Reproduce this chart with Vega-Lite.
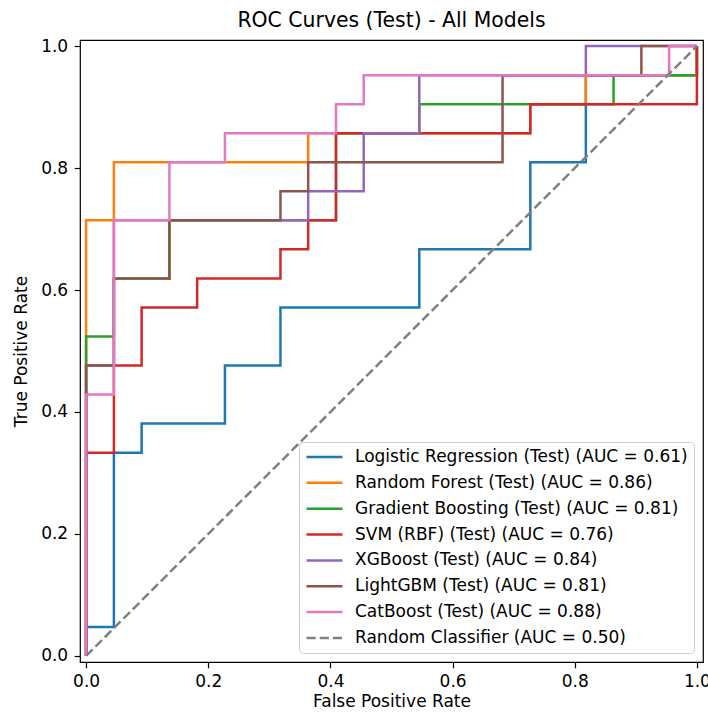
{
  "$schema": "https://vega.github.io/schema/vega-lite/v6.json",
  "width": 623,
  "height": 622,
  "autosize": "none",
  "padding": {"left": 80, "top": 40, "right": 5, "bottom": 54},
  "background": "white",
  "title": {"text": "ROC Curves (Test) - All Models", "font": "DejaVu Sans", "fontSize": 20.4, "fontWeight": "normal", "color": "#000", "anchor": "middle", "baseline": "alphabetic", "offset": 12, "dy": 22},
  "data": {"values": [
    {"model": "Logistic Regression (Test) (AUC = 0.61)", "fpr": 0, "tpr": 0, "step": 0},
    {"model": "Logistic Regression (Test) (AUC = 0.61)", "fpr": 0, "tpr": 0.0476, "step": 1},
    {"model": "Logistic Regression (Test) (AUC = 0.61)", "fpr": 0.0455, "tpr": 0.0476, "step": 2},
    {"model": "Logistic Regression (Test) (AUC = 0.61)", "fpr": 0.0455, "tpr": 0.3333, "step": 3},
    {"model": "Logistic Regression (Test) (AUC = 0.61)", "fpr": 0.0909, "tpr": 0.3333, "step": 4},
    {"model": "Logistic Regression (Test) (AUC = 0.61)", "fpr": 0.0909, "tpr": 0.381, "step": 5},
    {"model": "Logistic Regression (Test) (AUC = 0.61)", "fpr": 0.2273, "tpr": 0.381, "step": 6},
    {"model": "Logistic Regression (Test) (AUC = 0.61)", "fpr": 0.2273, "tpr": 0.4762, "step": 7},
    {"model": "Logistic Regression (Test) (AUC = 0.61)", "fpr": 0.3182, "tpr": 0.4762, "step": 8},
    {"model": "Logistic Regression (Test) (AUC = 0.61)", "fpr": 0.3182, "tpr": 0.5714, "step": 9},
    {"model": "Logistic Regression (Test) (AUC = 0.61)", "fpr": 0.5455, "tpr": 0.5714, "step": 10},
    {"model": "Logistic Regression (Test) (AUC = 0.61)", "fpr": 0.5455, "tpr": 0.6667, "step": 11},
    {"model": "Logistic Regression (Test) (AUC = 0.61)", "fpr": 0.7273, "tpr": 0.6667, "step": 12},
    {"model": "Logistic Regression (Test) (AUC = 0.61)", "fpr": 0.7273, "tpr": 0.8095, "step": 13},
    {"model": "Logistic Regression (Test) (AUC = 0.61)", "fpr": 0.8182, "tpr": 0.8095, "step": 14},
    {"model": "Logistic Regression (Test) (AUC = 0.61)", "fpr": 0.8182, "tpr": 0.9524, "step": 15},
    {"model": "Logistic Regression (Test) (AUC = 0.61)", "fpr": 1, "tpr": 0.9524, "step": 16},
    {"model": "Logistic Regression (Test) (AUC = 0.61)", "fpr": 1, "tpr": 1, "step": 17},

    {"model": "Random Forest (Test) (AUC = 0.86)", "fpr": 0, "tpr": 0, "step": 0},
    {"model": "Random Forest (Test) (AUC = 0.86)", "fpr": 0, "tpr": 0.7143, "step": 1},
    {"model": "Random Forest (Test) (AUC = 0.86)", "fpr": 0.0455, "tpr": 0.7143, "step": 2},
    {"model": "Random Forest (Test) (AUC = 0.86)", "fpr": 0.0455, "tpr": 0.8095, "step": 3},
    {"model": "Random Forest (Test) (AUC = 0.86)", "fpr": 0.3636, "tpr": 0.8095, "step": 4},
    {"model": "Random Forest (Test) (AUC = 0.86)", "fpr": 0.3636, "tpr": 0.8571, "step": 5},
    {"model": "Random Forest (Test) (AUC = 0.86)", "fpr": 0.7273, "tpr": 0.8571, "step": 6},
    {"model": "Random Forest (Test) (AUC = 0.86)", "fpr": 0.7273, "tpr": 0.9048, "step": 7},
    {"model": "Random Forest (Test) (AUC = 0.86)", "fpr": 0.8182, "tpr": 0.9048, "step": 8},
    {"model": "Random Forest (Test) (AUC = 0.86)", "fpr": 0.8182, "tpr": 0.9524, "step": 9},
    {"model": "Random Forest (Test) (AUC = 0.86)", "fpr": 1, "tpr": 0.9524, "step": 10},
    {"model": "Random Forest (Test) (AUC = 0.86)", "fpr": 1, "tpr": 1, "step": 11},

    {"model": "Gradient Boosting (Test) (AUC = 0.81)", "fpr": 0, "tpr": 0, "step": 0},
    {"model": "Gradient Boosting (Test) (AUC = 0.81)", "fpr": 0, "tpr": 0.5238, "step": 1},
    {"model": "Gradient Boosting (Test) (AUC = 0.81)", "fpr": 0.0455, "tpr": 0.5238, "step": 2},
    {"model": "Gradient Boosting (Test) (AUC = 0.81)", "fpr": 0.0455, "tpr": 0.619, "step": 3},
    {"model": "Gradient Boosting (Test) (AUC = 0.81)", "fpr": 0.1364, "tpr": 0.619, "step": 4},
    {"model": "Gradient Boosting (Test) (AUC = 0.81)", "fpr": 0.1364, "tpr": 0.7143, "step": 5},
    {"model": "Gradient Boosting (Test) (AUC = 0.81)", "fpr": 0.4091, "tpr": 0.7143, "step": 6},
    {"model": "Gradient Boosting (Test) (AUC = 0.81)", "fpr": 0.4091, "tpr": 0.8571, "step": 7},
    {"model": "Gradient Boosting (Test) (AUC = 0.81)", "fpr": 0.5455, "tpr": 0.8571, "step": 8},
    {"model": "Gradient Boosting (Test) (AUC = 0.81)", "fpr": 0.5455, "tpr": 0.9048, "step": 9},
    {"model": "Gradient Boosting (Test) (AUC = 0.81)", "fpr": 0.8636, "tpr": 0.9048, "step": 10},
    {"model": "Gradient Boosting (Test) (AUC = 0.81)", "fpr": 0.8636, "tpr": 0.9524, "step": 11},
    {"model": "Gradient Boosting (Test) (AUC = 0.81)", "fpr": 1, "tpr": 0.9524, "step": 12},
    {"model": "Gradient Boosting (Test) (AUC = 0.81)", "fpr": 1, "tpr": 1, "step": 13},

    {"model": "SVM (RBF) (Test) (AUC = 0.76)", "fpr": 0, "tpr": 0, "step": 0},
    {"model": "SVM (RBF) (Test) (AUC = 0.76)", "fpr": 0, "tpr": 0.3333, "step": 1},
    {"model": "SVM (RBF) (Test) (AUC = 0.76)", "fpr": 0.0455, "tpr": 0.3333, "step": 2},
    {"model": "SVM (RBF) (Test) (AUC = 0.76)", "fpr": 0.0455, "tpr": 0.4762, "step": 3},
    {"model": "SVM (RBF) (Test) (AUC = 0.76)", "fpr": 0.0909, "tpr": 0.4762, "step": 4},
    {"model": "SVM (RBF) (Test) (AUC = 0.76)", "fpr": 0.0909, "tpr": 0.5714, "step": 5},
    {"model": "SVM (RBF) (Test) (AUC = 0.76)", "fpr": 0.1818, "tpr": 0.5714, "step": 6},
    {"model": "SVM (RBF) (Test) (AUC = 0.76)", "fpr": 0.1818, "tpr": 0.619, "step": 7},
    {"model": "SVM (RBF) (Test) (AUC = 0.76)", "fpr": 0.3182, "tpr": 0.619, "step": 8},
    {"model": "SVM (RBF) (Test) (AUC = 0.76)", "fpr": 0.3182, "tpr": 0.6667, "step": 9},
    {"model": "SVM (RBF) (Test) (AUC = 0.76)", "fpr": 0.3636, "tpr": 0.6667, "step": 10},
    {"model": "SVM (RBF) (Test) (AUC = 0.76)", "fpr": 0.3636, "tpr": 0.7143, "step": 11},
    {"model": "SVM (RBF) (Test) (AUC = 0.76)", "fpr": 0.4091, "tpr": 0.7143, "step": 12},
    {"model": "SVM (RBF) (Test) (AUC = 0.76)", "fpr": 0.4091, "tpr": 0.8571, "step": 13},
    {"model": "SVM (RBF) (Test) (AUC = 0.76)", "fpr": 0.7273, "tpr": 0.8571, "step": 14},
    {"model": "SVM (RBF) (Test) (AUC = 0.76)", "fpr": 0.7273, "tpr": 0.9048, "step": 15},
    {"model": "SVM (RBF) (Test) (AUC = 0.76)", "fpr": 1, "tpr": 0.9048, "step": 16},
    {"model": "SVM (RBF) (Test) (AUC = 0.76)", "fpr": 1, "tpr": 1, "step": 17},

    {"model": "XGBoost (Test) (AUC = 0.84)", "fpr": 0, "tpr": 0, "step": 0},
    {"model": "XGBoost (Test) (AUC = 0.84)", "fpr": 0, "tpr": 0.4762, "step": 1},
    {"model": "XGBoost (Test) (AUC = 0.84)", "fpr": 0.0455, "tpr": 0.4762, "step": 2},
    {"model": "XGBoost (Test) (AUC = 0.84)", "fpr": 0.0455, "tpr": 0.7143, "step": 3},
    {"model": "XGBoost (Test) (AUC = 0.84)", "fpr": 0.3636, "tpr": 0.7143, "step": 4},
    {"model": "XGBoost (Test) (AUC = 0.84)", "fpr": 0.3636, "tpr": 0.7619, "step": 5},
    {"model": "XGBoost (Test) (AUC = 0.84)", "fpr": 0.4545, "tpr": 0.7619, "step": 6},
    {"model": "XGBoost (Test) (AUC = 0.84)", "fpr": 0.4545, "tpr": 0.8571, "step": 7},
    {"model": "XGBoost (Test) (AUC = 0.84)", "fpr": 0.5455, "tpr": 0.8571, "step": 8},
    {"model": "XGBoost (Test) (AUC = 0.84)", "fpr": 0.5455, "tpr": 0.9524, "step": 9},
    {"model": "XGBoost (Test) (AUC = 0.84)", "fpr": 0.8182, "tpr": 0.9524, "step": 10},
    {"model": "XGBoost (Test) (AUC = 0.84)", "fpr": 0.8182, "tpr": 1, "step": 11},
    {"model": "XGBoost (Test) (AUC = 0.84)", "fpr": 1, "tpr": 1, "step": 12},

    {"model": "LightGBM (Test) (AUC = 0.81)", "fpr": 0, "tpr": 0, "step": 0},
    {"model": "LightGBM (Test) (AUC = 0.81)", "fpr": 0, "tpr": 0.4762, "step": 1},
    {"model": "LightGBM (Test) (AUC = 0.81)", "fpr": 0.0455, "tpr": 0.4762, "step": 2},
    {"model": "LightGBM (Test) (AUC = 0.81)", "fpr": 0.0455, "tpr": 0.619, "step": 3},
    {"model": "LightGBM (Test) (AUC = 0.81)", "fpr": 0.1364, "tpr": 0.619, "step": 4},
    {"model": "LightGBM (Test) (AUC = 0.81)", "fpr": 0.1364, "tpr": 0.7143, "step": 5},
    {"model": "LightGBM (Test) (AUC = 0.81)", "fpr": 0.3182, "tpr": 0.7143, "step": 6},
    {"model": "LightGBM (Test) (AUC = 0.81)", "fpr": 0.3182, "tpr": 0.7619, "step": 7},
    {"model": "LightGBM (Test) (AUC = 0.81)", "fpr": 0.3636, "tpr": 0.7619, "step": 8},
    {"model": "LightGBM (Test) (AUC = 0.81)", "fpr": 0.3636, "tpr": 0.8095, "step": 9},
    {"model": "LightGBM (Test) (AUC = 0.81)", "fpr": 0.6818, "tpr": 0.8095, "step": 10},
    {"model": "LightGBM (Test) (AUC = 0.81)", "fpr": 0.6818, "tpr": 0.9524, "step": 11},
    {"model": "LightGBM (Test) (AUC = 0.81)", "fpr": 0.9091, "tpr": 0.9524, "step": 12},
    {"model": "LightGBM (Test) (AUC = 0.81)", "fpr": 0.9091, "tpr": 1, "step": 13},
    {"model": "LightGBM (Test) (AUC = 0.81)", "fpr": 1, "tpr": 1, "step": 14},

    {"model": "CatBoost (Test) (AUC = 0.88)", "fpr": 0, "tpr": 0, "step": 0},
    {"model": "CatBoost (Test) (AUC = 0.88)", "fpr": 0, "tpr": 0.4286, "step": 1},
    {"model": "CatBoost (Test) (AUC = 0.88)", "fpr": 0.0455, "tpr": 0.4286, "step": 2},
    {"model": "CatBoost (Test) (AUC = 0.88)", "fpr": 0.0455, "tpr": 0.7143, "step": 3},
    {"model": "CatBoost (Test) (AUC = 0.88)", "fpr": 0.1364, "tpr": 0.7143, "step": 4},
    {"model": "CatBoost (Test) (AUC = 0.88)", "fpr": 0.1364, "tpr": 0.8095, "step": 5},
    {"model": "CatBoost (Test) (AUC = 0.88)", "fpr": 0.2273, "tpr": 0.8095, "step": 6},
    {"model": "CatBoost (Test) (AUC = 0.88)", "fpr": 0.2273, "tpr": 0.8571, "step": 7},
    {"model": "CatBoost (Test) (AUC = 0.88)", "fpr": 0.4091, "tpr": 0.8571, "step": 8},
    {"model": "CatBoost (Test) (AUC = 0.88)", "fpr": 0.4091, "tpr": 0.9048, "step": 9},
    {"model": "CatBoost (Test) (AUC = 0.88)", "fpr": 0.4545, "tpr": 0.9048, "step": 10},
    {"model": "CatBoost (Test) (AUC = 0.88)", "fpr": 0.4545, "tpr": 0.9524, "step": 11},
    {"model": "CatBoost (Test) (AUC = 0.88)", "fpr": 0.9545, "tpr": 0.9524, "step": 12},
    {"model": "CatBoost (Test) (AUC = 0.88)", "fpr": 0.9545, "tpr": 1, "step": 13},
    {"model": "CatBoost (Test) (AUC = 0.88)", "fpr": 1, "tpr": 1, "step": 14},

    {"model": "Random Classifier (AUC = 0.50)", "fpr": 0, "tpr": 0, "step": 0},
    {"model": "Random Classifier (AUC = 0.50)", "fpr": 1, "tpr": 1, "step": 1}
  ]},
  "mark": {"type": "line", "strokeWidth": 2.5, "clip": true},
  "encoding": {
    "x": {"field": "fpr", "type": "quantitative", "scale": {"domain": [-0.01, 1.01], "nice": false, "zero": false},
          "axis": {"title": "False Positive Rate", "values": [0, 0.2, 0.4, 0.6, 0.8, 1], "format": ".1f", "titlePadding": 4}},
    "y": {"field": "tpr", "type": "quantitative", "scale": {"domain": [-0.01, 1.01], "nice": false, "zero": false},
          "axis": {"title": "True Positive Rate", "values": [0, 0.2, 0.4, 0.6, 0.8, 1], "format": ".1f", "titlePadding": 10, "labelPadding": 6.5}},
    "order": {"field": "step", "type": "quantitative"},
    "color": {"field": "model", "type": "nominal",
      "scale": {
        "domain": ["Logistic Regression (Test) (AUC = 0.61)", "Random Forest (Test) (AUC = 0.86)", "Gradient Boosting (Test) (AUC = 0.81)", "SVM (RBF) (Test) (AUC = 0.76)", "XGBoost (Test) (AUC = 0.84)", "LightGBM (Test) (AUC = 0.81)", "CatBoost (Test) (AUC = 0.88)", "Random Classifier (AUC = 0.50)"],
        "range": ["#1f77b4", "#ff7f0e", "#2ca02c", "#d62728", "#9467bd", "#8c564b", "#e377c2", "#808080"]
      },
      "legend": {"title": null, "orient": "bottom-right", "offset": 9}
    },
    "strokeDash": {"field": "model", "type": "nominal",
      "scale": {
        "domain": ["Logistic Regression (Test) (AUC = 0.61)", "Random Forest (Test) (AUC = 0.86)", "Gradient Boosting (Test) (AUC = 0.81)", "SVM (RBF) (Test) (AUC = 0.76)", "XGBoost (Test) (AUC = 0.84)", "LightGBM (Test) (AUC = 0.81)", "CatBoost (Test) (AUC = 0.88)", "Random Classifier (AUC = 0.50)"],
        "range": [[1, 0], [1, 0], [1, 0], [1, 0], [1, 0], [1, 0], [1, 0], [9.2, 4]]
      },
      "legend": {"title": null, "orient": "bottom-right", "offset": 9}
    }
  },
  "config": {
    "font": "DejaVu Sans",
    "view": {"stroke": "#000", "strokeWidth": 1.2},
    "axis": {"grid": false, "domain": false, "tickColor": "#000", "tickSize": 5.8, "tickWidth": 1.2,
             "labelFont": "DejaVu Sans", "labelFontSize": 17, "labelColor": "#000", "labelPadding": 5.5,
             "labelFlush": false, "labelOverlap": false,
             "titleFont": "DejaVu Sans", "titleFontSize": 17, "titleFontWeight": "normal", "titleColor": "#000"},
    "legend": {"symbolType": "stroke", "symbolSize": 1296, "symbolStrokeWidth": 2.5,
               "labelFont": "DejaVu Sans", "labelFontSize": 17, "labelColor": "#000", "labelLimit": 600,
               "labelOffset": 11, "clipHeight": 18, "rowPadding": 7.85, "padding": 6,
               "fillColor": "rgba(255,255,255,0.8)", "strokeColor": "#cccccc", "cornerRadius": 4}
  }
}
